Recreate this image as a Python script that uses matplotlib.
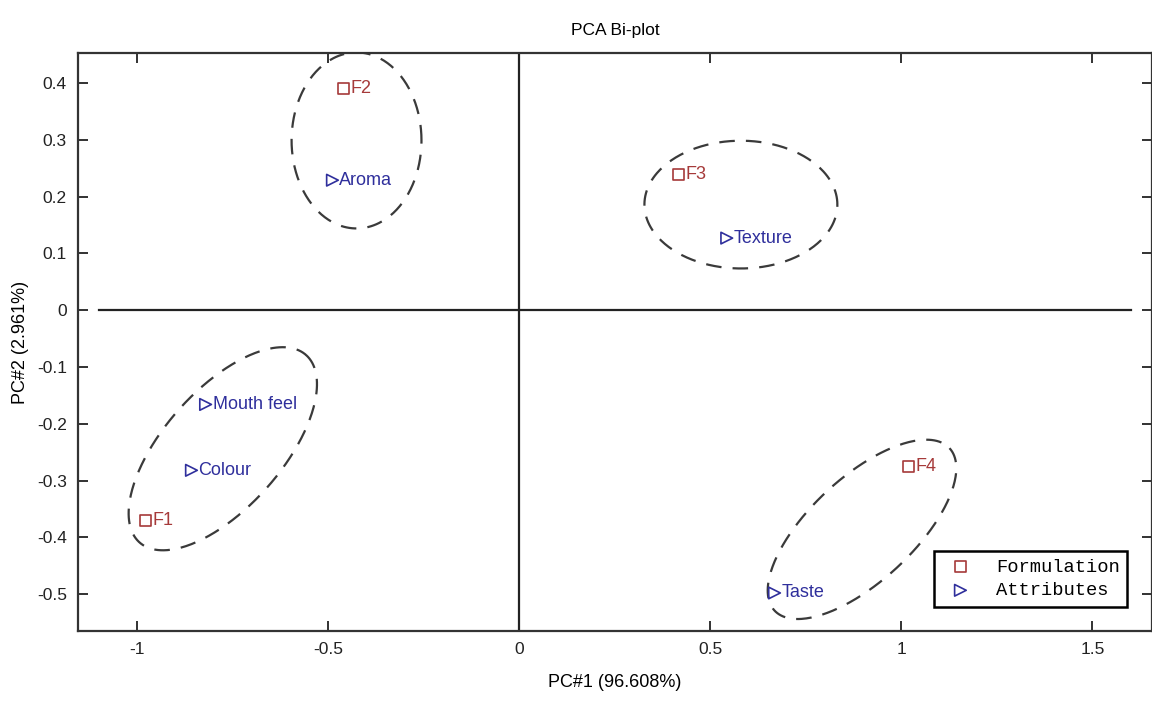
import numpy as np
import matplotlib
matplotlib.use("Agg")
import matplotlib.pyplot as plt

# formulations (squares) and attributes (triangles), PC scores
form_names = ['F1', 'F2', 'F3', 'F4']
form_pc1 = [-0.978, -0.46, 0.417, 1.019]
form_pc2 = [-0.37, 0.39, 0.239, -0.275]

attr_names = ['Aroma', 'Texture', 'Mouth feel', 'Colour', 'Taste']
attr_pc1 = [-0.489, 0.543, -0.821, -0.858, 0.668]
attr_pc2 = [0.229, 0.127, -0.166, -0.282, -0.498]

# grouping ellipses: centre, half-axis vector A, half-axis vector B (data units)
ell_centres = [(-0.426, 0.299), (0.58, 0.186), (-0.776, -0.244), (0.897, -0.386)]
ell_a = [(0.17, 0.0), (0.2525, 0.0), (0.218, 0.165), (0.229, 0.143)]
ell_b = [(0.0, 0.155), (0.0, 0.1125), (0.115, -0.069), (0.092, -0.067)]

x_ticks = [-1, -0.5, 0, 0.5, 1, 1.5]
y_ticks = [-0.5, -0.4, -0.3, -0.2, -0.1, 0, 0.1, 0.2, 0.3, 0.4]

red = '#a63a3a'
blue = '#2f2f9c'

plt.rcParams['font.family'] = ['Liberation Sans', 'DejaVu Sans']

fig = plt.figure(figsize=(11.52, 7.04), dpi=100)
ax = fig.add_axes([78 / 1152, 1 - 631 / 704, 1074 / 1152, (631 - 53) / 704])

ax.set_xlim(-1.155, 1.656)
ax.set_ylim(-0.565, 0.453)

ax.axhline(0, xmin=(-1.1 + 1.155) / 2.811, xmax=(1.6 + 1.155) / 2.811, color='#222222', lw=1.6)
ax.axvline(0, color='#222222', lw=1.6)

t = np.linspace(0, 2 * np.pi, 300)
for c, a, b in zip(ell_centres, ell_a, ell_b):
    ex = c[0] + a[0] * np.cos(t) + b[0] * np.sin(t)
    ey = c[1] + a[1] * np.cos(t) + b[1] * np.sin(t)
    ax.plot(ex, ey, color='#3a3a3a', lw=1.6, dashes=(7, 5))

ax.scatter(form_pc1, form_pc2, marker='s', s=60, facecolors='none',
           edgecolors=red, linewidths=1.2, zorder=3, label='Formulation')
ax.scatter(attr_pc1, attr_pc2, marker='>', s=70, facecolors='none',
           edgecolors=blue, linewidths=1.2, zorder=3, label='Attributes')

for n, x, y in zip(form_names, form_pc1, form_pc2):
    ax.annotate(n, (x, y), xytext=(5, 0), textcoords='offset points',
                va='center', ha='left', color=red, fontsize=13)
for n, x, y in zip(attr_names, attr_pc1, attr_pc2):
    ax.annotate(n, (x, y), xytext=(5, 0), textcoords='offset points',
                va='center', ha='left', color=blue, fontsize=13)

ax.set_xticks(x_ticks)
ax.set_xticklabels([f'{v:g}' for v in x_ticks])
ax.set_yticks(y_ticks)
ax.set_yticklabels([f'{v:g}' for v in y_ticks])
ax.tick_params(direction='in', length=7, width=1.3, top=True, right=True,
               labelsize=12.5, colors='#222222', pad=8)
for sp in ax.spines.values():
    sp.set_linewidth(1.6)
    sp.set_color('#333333')

ax.set_title('PCA Bi-plot', fontsize=12.5, pad=13)
ax.set_xlabel('PC#1 (96.608%)', fontsize=13, labelpad=12)
ax.set_ylabel('PC#2 (2.961%)', fontsize=13)
ax.yaxis.set_label_coords(-0.046, 0.5)

leg = ax.legend(loc='lower right', bbox_to_anchor=(0.977, 0.042),
                prop={'family': 'Liberation Mono', 'size': 13.5},
                fancybox=False, framealpha=1, edgecolor='black',
                borderpad=0.4, handletextpad=0.9, labelspacing=0.35,
                markerscale=1.0, borderaxespad=0)
leg.get_frame().set_linewidth(1.8)

fig.savefig('out.png', dpi=100)
